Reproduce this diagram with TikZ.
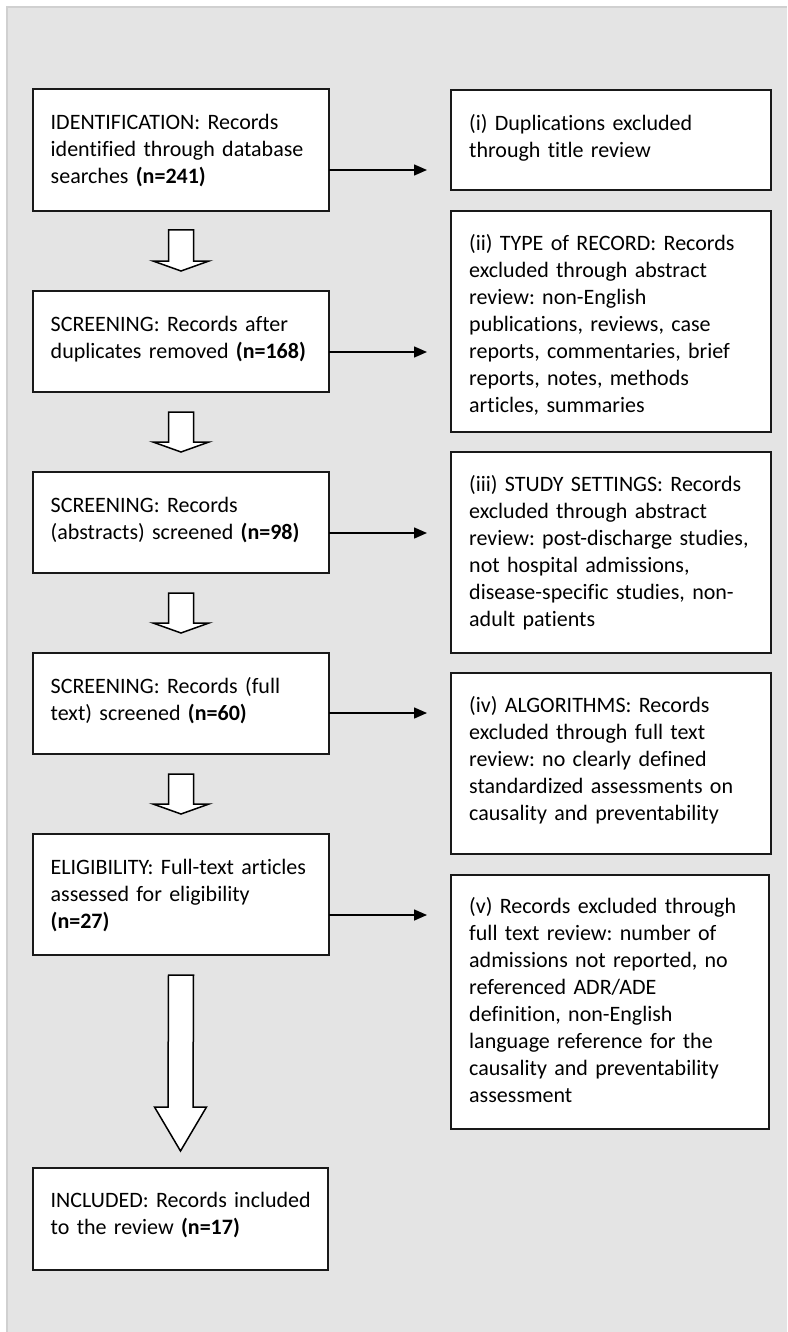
\documentclass[tikz,border=0pt]{standalone}
\usepackage{fontspec}
\setmainfont{Carlito}[Ligatures={NoCommon}]
\usetikzlibrary{calc,arrows.meta}
\definecolor{panel}{HTML}{E4E4E4}
\definecolor{panelline}{HTML}{D0D0D0}
% #1 from node, #2 to node, #3 gap below #1, #4 head length, #5 gap above #2, #6 head half width
\newcommand\hollowarr[6]{%
  \draw[harrow] ($(#1.south)+(-12.5,-#3)$) -- ($(#1.south)+(12.5,-#3)$)
    -- ($(#2.north)+(12.5,#5+#4)$) -- ($(#2.north)+(#6,#5+#4)$)
    -- ($(#2.north)+(0,#5)$) -- ($(#2.north)+(-#6,#5+#4)$)
    -- ($(#2.north)+(-12.5,#5+#4)$) -- cycle;}
\begin{document}
\frenchspacing
\begin{tikzpicture}[x=1pt,y=1pt,
  box/.style={draw=black!90, line width=1.6pt, fill=white, inner sep=0pt, outer sep=0pt, anchor=north west},
  txt/.style={anchor=north west, inner sep=0pt, align=left, text width=300pt,
              font=\fontsize{22pt}{27pt}\selectfont\frenchspacing},
  conn/.style={line width=1.5pt, -{Triangle[length=13pt,width=11pt]}, shorten >=24pt},
  harrow/.style={draw=black, line width=1.5pt, fill=white, line join=miter}]
\useasboundingbox (0,0) rectangle (787,-1332);
\fill[white] (0,0) rectangle (787,-1332);
\fill[panel] (7,-7) rectangle (787,-1332);
\draw[panelline, line width=2.5pt] (7,-1332) -- (7,-7) -- (787,-7);

% left column
\node[box, minimum width=296pt, minimum height=122pt] (b1) at (33,-89) {};
\node[box, minimum width=296pt, minimum height=101pt] (b2) at (33,-291) {};
\node[box, minimum width=296pt, minimum height=101pt] (b3) at (33,-472) {};
\node[box, minimum width=296pt, minimum height=101pt] (b4) at (33,-653) {};
\node[box, minimum width=296pt, minimum height=121pt] (b5) at (33,-834) {};
\node[box, minimum width=295pt, minimum height=102pt] (b6) at (33,-1168) {};

% right column
\node[box, minimum width=320pt, minimum height=100pt] (r1) at (451,-90) {};
\node[box, minimum width=320pt, minimum height=221pt] (r2) at (451,-211) {};
\node[box, minimum width=320pt, minimum height=201pt] (r3) at (451,-452) {};
\node[box, minimum width=320pt, minimum height=181pt] (r4) at (451,-673) {};
\node[box, minimum width=318pt, minimum height=254pt] (r5) at (451,-875) {};

% texts
\node[txt] (tb1) at ($(b1.north west)+(17.5,-20)$) {\rule{0pt}{20pt}IDENTIFICATION: Records\\identified through database\\searches \textbf{(n=241)}};
\node[txt] (tb2) at ($(b2.north west)+(17.5,-20)$) {\rule{0pt}{20pt}SCREENING: Records after\\duplicates removed \textbf{(n=168)}};
\node[txt] (tb3) at ($(b3.north west)+(17.5,-20)$) {\rule{0pt}{20pt}SCREENING: Records\\(abstracts) screened \textbf{(n=98)}};
\node[txt] (tb4) at ($(b4.north west)+(17.5,-20)$) {\rule{0pt}{20pt}SCREENING: Records (full\\text) screened \textbf{(n=60)}};
\node[txt] (tb5) at ($(b5.north west)+(17.5,-20)$) {\rule{0pt}{20pt}ELIGIBILITY: Full-text articles\\assessed for eligibility\\\textbf{(n=27)}};
\node[txt] (tb6) at ($(b6.north west)+(17.5,-19)$) {\rule{0pt}{20pt}INCLUDED: Records included\\to the review \textbf{(n=17)}};

\node[txt] (tr1) at ($(r1.north west)+(18,-20)$) {\rule{0pt}{20pt}(i) Duplications excluded\\through title review};
\node[txt] (tr2) at ($(r2.north west)+(18,-19)$) {\rule{0pt}{20pt}(ii) TYPE of RECORD: Records\\excluded through abstract\\review: non-English\\publications, reviews, case\\reports, commentaries, brief\\reports, notes, methods\\articles, summaries};
\node[txt] (tr3) at ($(r3.north west)+(18,-19)$) {\rule{0pt}{20pt}(iii) STUDY SETTINGS: Records\\excluded through abstract\\review: post-discharge studies,\\not hospital admissions,\\disease-specific studies, non-\\adult patients};
\node[txt] (tr4) at ($(r4.north west)+(18,-19)$) {\rule{0pt}{20pt}(iv) ALGORITHMS: Records\\excluded through full text\\review: no clearly defined\\standardized assessments on\\causality and preventability};
\node[txt] (tr5) at ($(r5.north west)+(18,-18)$) {\rule{0pt}{20pt}(v) Records excluded through\\full text review: number of\\admissions not reported, no\\referenced ADR/ADE\\definition, non-English\\language reference for the\\causality and preventability\\assessment};

% hollow down arrows
\hollowarr{b1}{b2}{19}{10}{20}{28}
\hollowarr{b2}{b3}{20}{10}{20}{28}
\hollowarr{b3}{b4}{20}{10}{20}{28}
\hollowarr{b4}{b5}{20}{10}{20}{28}
\hollowarr{b5}{b6}{20}{44}{17}{26}

% exclusion connectors
\coordinate (a1) at ($(b1.east)+(0,-20)$);
\coordinate (a2) at ($(b2.east)+(0,-10.5)$);
\coordinate (a3) at ($(b3.east)+(0,-10.5)$);
\coordinate (a4) at ($(b4.east)+(0,-9.5)$);
\coordinate (a5) at ($(b5.east)+(0,-20.5)$);
\draw[conn] (a1) -- (a1 -| r1.west);
\draw[conn] (a2) -- (a2 -| r2.west);
\draw[conn] (a3) -- (a3 -| r3.west);
\draw[conn] (a4) -- (a4 -| r4.west);
\draw[conn] (a5) -- (a5 -| r5.west);
\end{tikzpicture}
\end{document}
